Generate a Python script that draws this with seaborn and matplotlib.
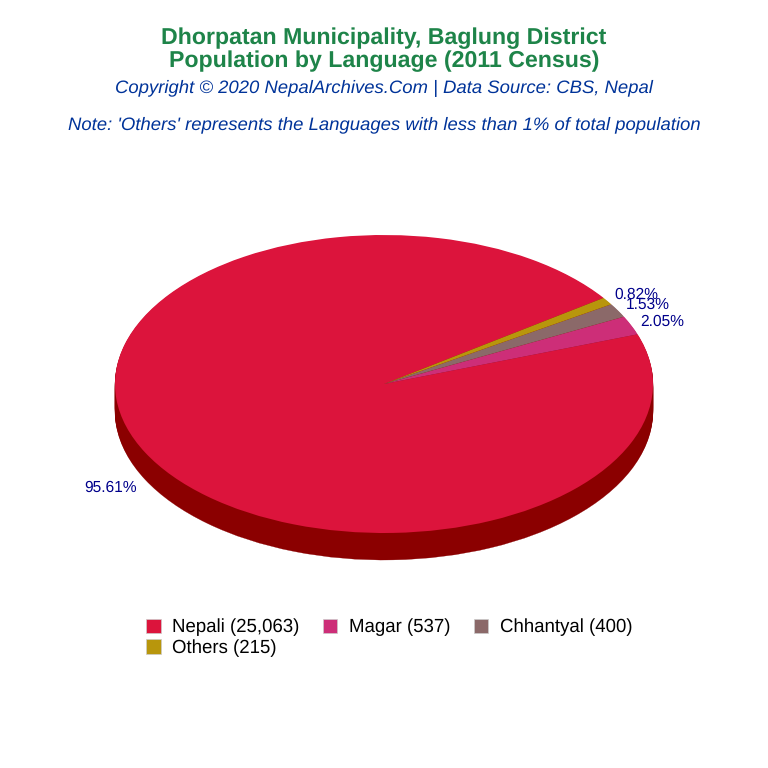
import matplotlib
matplotlib.use("Agg")
import matplotlib.pyplot as plt
from matplotlib.patches import Patch
import seaborn as sns

languages = ["Nepali", "Magar", "Chhantyal", "Others"]
population = [25063, 537, 400, 215]
colors = ["#DC143C", "#CD2E78", "#8B6969", "#B8960C"]
dark_colors = ["#8B0000", "#8B0000", "#8B0000", "#8B0000"]

sns.set_theme(style="white")
plt.rcParams["font.family"] = ["Liberation Sans", "DejaVu Sans"]
plt.rcParams["text.hinting"] = "no_hinting"
plt.rcParams["text.hinting_factor"] = 8

palette = sns.color_palette(colors)
dark_palette = sns.color_palette(dark_colors)

fig = plt.figure(figsize=(7.68, 7.68), dpi=100)

# eixo ocupa a figura toda; a elipse vem dos limites (rx=269px, ry=149px)
ax = fig.add_axes([0, 0, 1, 1])

# "espessura" do pie: varias camadas escuras deslocadas para baixo
depth = 27 / 149
for i in range(28):
    ax.pie(population, colors=dark_palette, startangle=35.3, radius=1,
           center=(0, -depth * (1 - i / 28)), frame=True,
           wedgeprops={"linewidth": 0.2, "edgecolor": "#8B0000"})

wedges, _, autotexts = ax.pie(population, colors=palette, startangle=35.3, radius=1,
                              center=(0, 0), frame=True,
                              autopct="%.2f%%", pctdistance=1.11,
                              wedgeprops={"linewidth": 0},
                              textprops={"fontsize": 11.2, "color": "#00008B"})

ax.set_aspect("auto")
ax.set_xlim(-384 / 269, 384 / 269)
ax.set_ylim(-384 / 149, 384 / 149)
ax.axis("off")

# rotulo de baixo acompanha a espessura
x, y = autotexts[0].get_position()
autotexts[0].set_position((x - 0.032, y - depth - 0.007))

# rotulos pequenos um pouco mais para fora
for t in autotexts[1:]:
    x, y = t.get_position()
    t.set_position((x + 4 / 269, y - 2.8 / 149))

fig.text(0.5, 1 - 38 / 768, "Dhorpatan Municipality, Baglung District", ha="center", va="center",
         fontsize=16.65, fontweight="bold", color="#1E8449")
fig.text(0.5, 1 - 61 / 768, "Population by Language (2011 Census)", ha="center", va="center",
         fontsize=16.65, fontweight="bold", color="#1E8449")
fig.text(0.5, 1 - 88.5 / 768, "Copyright © 2020 NepalArchives.Com | Data Source: CBS, Nepal", ha="center", va="center",
         fontsize=13.3, fontstyle="italic", color="#003399")
fig.text(0.5, 1 - 125 / 768, "Note: 'Others' represents the Languages with less than 1% of total population", ha="center", va="center",
         fontsize=13.3, fontstyle="italic", color="#003399")

labels = [f"{name} ({value:,})" for name, value in zip(languages, population)]
handles = [Patch(facecolor=c, edgecolor="#CCCCCC", linewidth=0.5) for c in palette]

# legenda preenche por coluna, entao Others vem logo depois de Nepali
order = [0, 3, 1, 2]
fig.legend([handles[i] for i in order], [labels[i] for i in order],
           ncol=3, loc="upper left", bbox_to_anchor=(142 / 768, 1 - 615 / 768),
           frameon=False, fontsize=13.4, labelcolor="black", handlelength=0.8, handleheight=0.8,
           handletextpad=0.6, columnspacing=1.26, labelspacing=0.15,
           borderpad=0.2, borderaxespad=0)

fig.savefig("out.png", dpi=100, facecolor="white")
